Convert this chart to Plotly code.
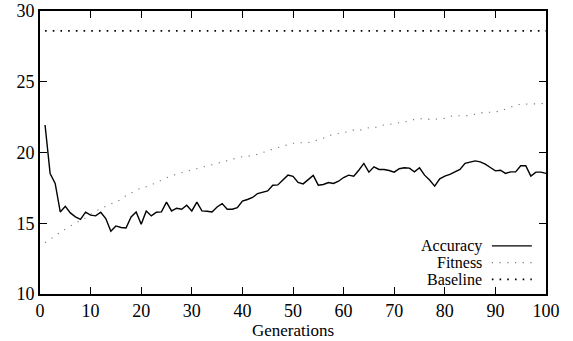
import plotly.graph_objects as go

generations = list(range(1, 101))

accuracy = [
    21.94, 18.52, 17.81, 15.80, 16.20, 15.73, 15.45, 15.28, 15.78, 15.57,
    15.52, 15.78, 15.33, 14.43, 14.81, 14.70, 14.67, 15.45, 15.80, 14.93,
    15.87, 15.52, 15.78, 15.80, 16.49, 15.87, 16.06, 15.99, 16.27, 15.87,
    16.49, 15.87, 15.85, 15.80, 16.15, 16.39, 15.99, 15.99, 16.10, 16.56,
    16.68, 16.82, 17.10, 17.17, 17.29, 17.69, 17.71, 18.05, 18.40, 18.31,
    17.88, 17.78, 18.09, 18.38, 17.69, 17.74, 17.88, 17.81, 17.97, 18.23,
    18.40, 18.33, 18.75, 19.23, 18.61, 18.99, 18.80, 18.80, 18.73, 18.61,
    18.85, 18.92, 18.90, 18.63, 18.92, 18.40, 18.05, 17.62, 18.14, 18.33,
    18.45, 18.61, 18.80, 19.23, 19.34, 19.41, 19.34, 19.18, 18.94, 18.70,
    18.75, 18.52, 18.63, 18.63, 19.06, 19.06, 18.33, 18.61, 18.61, 18.52,
]

fitness = [
    13.63, 13.85, 14.10, 14.37, 14.60, 14.85, 15.02, 15.20, 15.38, 15.62,
    15.85, 16.05, 16.20, 16.37, 16.53, 16.68, 16.95, 17.15, 17.33, 17.50,
    17.58, 17.70, 17.87, 18.05, 18.22, 18.35, 18.47, 18.57, 18.70, 18.81,
    18.88, 18.96, 19.04, 19.14, 19.26, 19.37, 19.45, 19.52, 19.62, 19.70,
    19.75, 19.77, 19.88, 20.01, 20.12, 20.24, 20.35, 20.45, 20.56, 20.65,
    20.68, 20.69, 20.71, 20.79, 20.90, 21.01, 21.18, 21.28, 21.36, 21.40,
    21.50, 21.58, 21.55, 21.66, 21.75, 21.75, 21.85, 21.95, 21.98, 22.03,
    22.07, 22.14, 22.22, 22.34, 22.39, 22.40, 22.34, 22.34, 22.37, 22.41,
    22.55, 22.60, 22.58, 22.59, 22.63, 22.71, 22.82, 22.86, 22.84, 22.87,
    22.92, 23.06, 23.22, 23.33, 23.41, 23.41, 23.42, 23.43, 23.45, 23.48,
]

baseline_value = 28.6
baseline = [baseline_value] * len(generations)

x_ticks = [0, 10, 20, 30, 40, 50, 60, 70, 80, 90, 100]
y_ticks = [10, 15, 20, 25, 30]
series_names = ["Accuracy", "Fitness", "Baseline"]

FONT = "'Times New Roman', 'Liberation Serif', 'DejaVu Serif', serif"

fig = go.Figure()
fig.add_trace(go.Scatter(x=generations, y=baseline, mode="lines", name=series_names[2],
                         line=dict(color="black", width=1.7, dash="1.6px,6.1px")))
fig.add_trace(go.Scatter(x=generations, y=fitness, mode="lines", name=series_names[1],
                         line=dict(color="#777777", width=1.1, dash="1.2px,6.5px")))
fig.add_trace(go.Scatter(x=generations, y=accuracy, mode="lines", name=series_names[0],
                         line=dict(color="black", width=1.4)))

# Legend drawn in gnuplot style (text right-aligned, sample to the right)
leg_y = [0.170, 0.111, 0.052]
leg_styles = [
    dict(color="black", width=1.2),
    dict(color="#777777", width=1.1, dash="1.2px,6.5px"),
    dict(color="black", width=1.7, dash="1.6px,6.1px"),
]
for name, yy, st in zip(series_names, leg_y, leg_styles):
    fig.add_annotation(x=0.876, y=yy, xref="paper", yref="paper", text=name,
                       showarrow=False, xanchor="right", yanchor="middle",
                       borderpad=0,
                       font=dict(family=FONT, size=16, color="black"))
    fig.add_shape(type="line", xref="paper", yref="paper", x0=0.893, x1=0.972,
                  y0=yy, y1=yy, line=st)

axis_common = dict(showline=True, linecolor="black", linewidth=1.6, mirror="ticks",
                   ticks="inside", ticklen=7, tickwidth=1.2, tickcolor="black",
                   showgrid=False, zeroline=False, automargin=False,
                   tickfont=dict(family=FONT, size=18, color="black"))

fig.update_xaxes(range=[0, 100], tickvals=x_ticks,
                 title=dict(text="Generations", font=dict(family=FONT, size=17, color="black"),
                            standoff=4),
                 **axis_common)
fig.update_yaxes(range=[10, 30], tickvals=y_ticks, **axis_common)

fig.update_layout(width=573, height=341, showlegend=False,
                  margin=dict(l=40, r=27, t=11, b=47),
                  plot_bgcolor="white", paper_bgcolor="white",
                  font=dict(family=FONT, color="black"))

fig.write_html("out.html", config={"displayModeBar": False},
               post_script="document.body.style.margin='0';")
